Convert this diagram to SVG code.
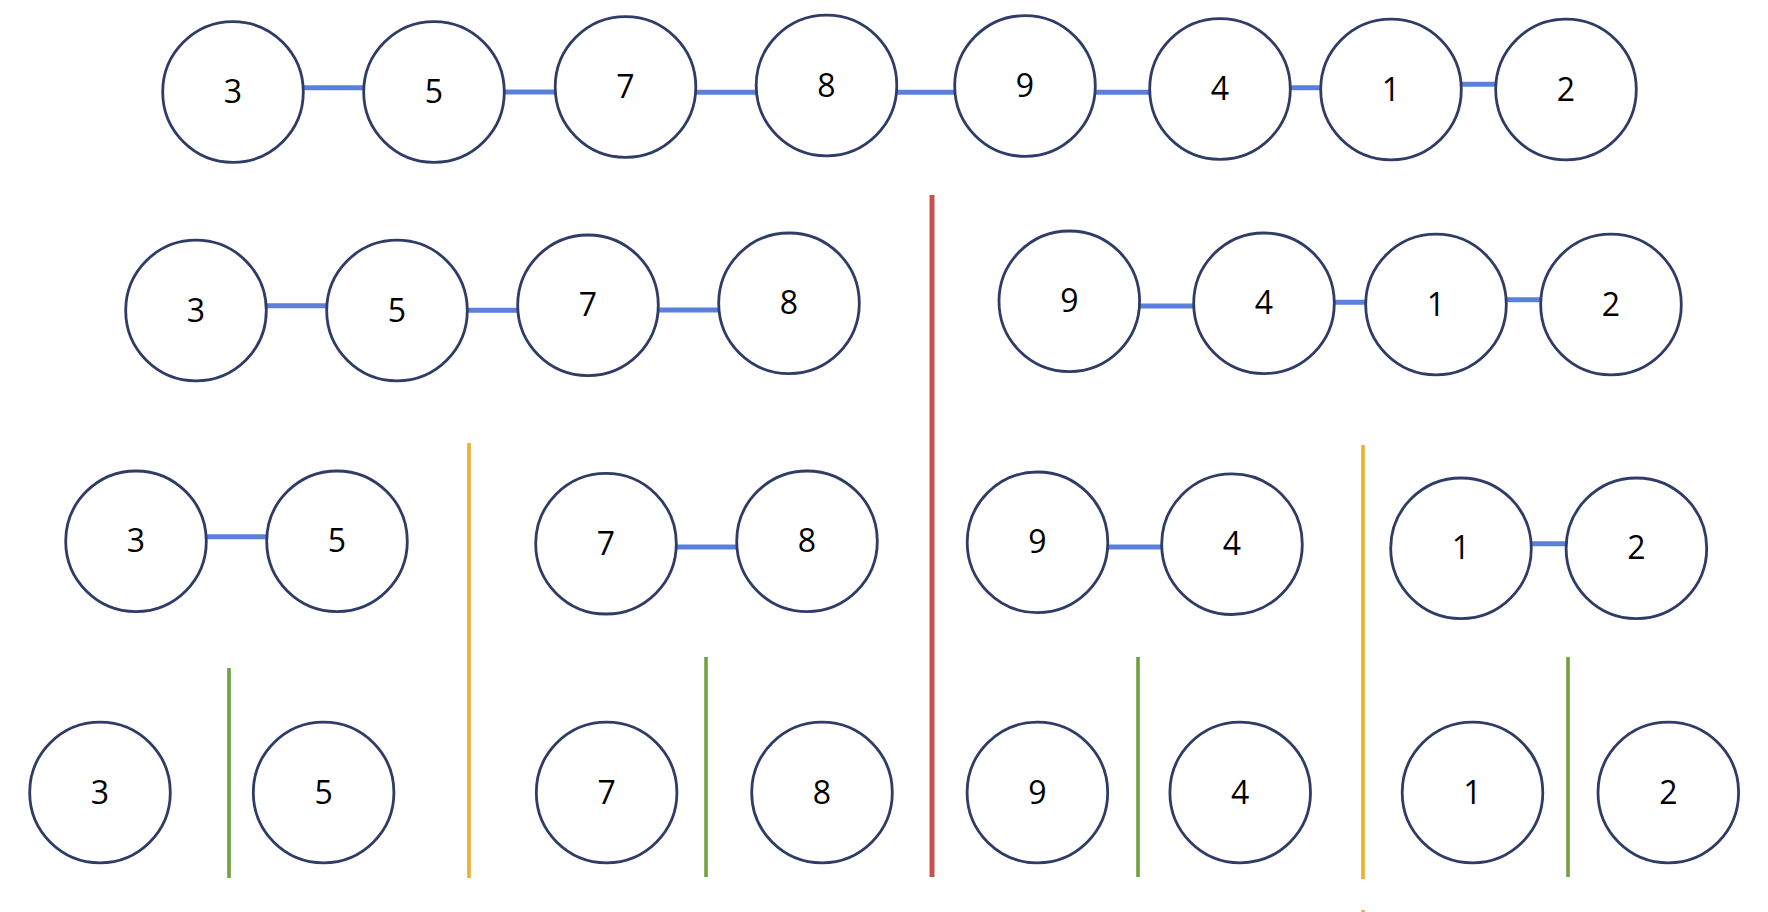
<svg xmlns="http://www.w3.org/2000/svg" width="1768" height="912" viewBox="0 0 1768 912">
<style>
.n circle{fill:#fff;stroke:#2F3C66;stroke-width:2.8}
.n text{font-family:"Open Sans","Liberation Sans",sans-serif;font-size:32px;fill:#000;text-anchor:middle}
.c line{stroke:#5B80DB;stroke-width:5}
.red{stroke:#C9504F;stroke-width:5}
.yel{stroke:#ECB02E;stroke-width:3.6}
.grn{stroke:#6FA23F;stroke-width:3.6}
</style>
<rect width="1768" height="912" fill="#fff"/>
<g id="dividers">
<line class="red" x1="932" y1="195" x2="932" y2="877"/>
<line class="yel" x1="469" y1="443" x2="469" y2="878"/>
<line class="yel" x1="1363" y1="445" x2="1363" y2="879"/>
<line class="yel" x1="1363" y1="910" x2="1363" y2="912"/>
<line class="grn" x1="229" y1="668" x2="229" y2="878"/>
<line class="grn" x1="706" y1="657" x2="706" y2="877"/>
<line class="grn" x1="1138" y1="657" x2="1138" y2="877"/>
<line class="grn" x1="1568" y1="657" x2="1568" y2="877"/>
</g>
<g id="connectors" class="c">
<line x1="300" y1="87.7" x2="367" y2="87.7"/>
<line x1="501" y1="92" x2="558" y2="92"/>
<line x1="692" y1="92.3" x2="760" y2="92.3"/>
<line x1="893" y1="92.3" x2="958" y2="92.3"/>
<line x1="1092" y1="92.3" x2="1153" y2="92.3"/>
<line x1="1287" y1="87.7" x2="1324" y2="87.7"/>
<line x1="1458" y1="84.3" x2="1499" y2="84.3"/>
<line x1="263" y1="305.7" x2="330" y2="305.7"/>
<line x1="464" y1="310.3" x2="521" y2="310.3"/>
<line x1="655" y1="310" x2="722" y2="310"/>
<line x1="1136" y1="306" x2="1197" y2="306"/>
<line x1="1331" y1="302.3" x2="1369" y2="302.3"/>
<line x1="1503" y1="299.7" x2="1544" y2="299.7"/>
<line x1="203" y1="536.7" x2="270" y2="536.7"/>
<line x1="673" y1="547" x2="740" y2="547"/>
<line x1="1104" y1="547" x2="1165" y2="547"/>
<line x1="1528" y1="543.7" x2="1569" y2="543.7"/>
</g>
<g id="r1-3" class="n"><circle cx="233" cy="92" r="70.3"/><text x="233" y="103">3</text></g>
<g id="r1-5" class="n"><circle cx="434" cy="92" r="70.3"/><text x="434" y="103">5</text></g>
<g id="r1-7" class="n"><circle cx="625.5" cy="87" r="70.3"/><text x="625.5" y="98">7</text></g>
<g id="r1-8" class="n"><circle cx="826.5" cy="85.5" r="70.3"/><text x="826.5" y="96.5">8</text></g>
<g id="r1-9" class="n"><circle cx="1025" cy="86" r="70.3"/><text x="1025" y="97">9</text></g>
<g id="r1-4" class="n"><circle cx="1220" cy="89" r="70.3"/><text x="1220" y="100">4</text></g>
<g id="r1-1" class="n"><circle cx="1391" cy="89.5" r="70.3"/><text x="1391" y="100.5">1</text></g>
<g id="r1-2" class="n"><circle cx="1566" cy="89.5" r="70.3"/><text x="1566" y="100.5">2</text></g>
<g id="r2-3" class="n"><circle cx="196" cy="310.5" r="70.3"/><text x="196" y="321.5">3</text></g>
<g id="r2-5" class="n"><circle cx="397" cy="310.5" r="70.3"/><text x="397" y="321.5">5</text></g>
<g id="r2-7" class="n"><circle cx="588" cy="305.3" r="70.3"/><text x="588" y="316.3">7</text></g>
<g id="r2-8" class="n"><circle cx="789" cy="303.3" r="70.3"/><text x="789" y="314.3">8</text></g>
<g id="r2-9" class="n"><circle cx="1069.3" cy="301.3" r="70.3"/><text x="1069.3" y="312.3">9</text></g>
<g id="r2-4" class="n"><circle cx="1264" cy="303.3" r="70.3"/><text x="1264" y="314.3">4</text></g>
<g id="r2-1" class="n"><circle cx="1436" cy="304.5" r="70.3"/><text x="1436" y="315.5">1</text></g>
<g id="r2-2" class="n"><circle cx="1611" cy="304.5" r="70.3"/><text x="1611" y="315.5">2</text></g>
<g id="r3-3" class="n"><circle cx="136" cy="541.3" r="70.3"/><text x="136" y="552.3">3</text></g>
<g id="r3-5" class="n"><circle cx="337" cy="541.3" r="70.3"/><text x="337" y="552.3">5</text></g>
<g id="r3-7" class="n"><circle cx="606" cy="543.7" r="70.3"/><text x="606" y="554.7">7</text></g>
<g id="r3-8" class="n"><circle cx="807" cy="541.3" r="70.3"/><text x="807" y="552.3">8</text></g>
<g id="r3-9" class="n"><circle cx="1037.5" cy="542.3" r="70.3"/><text x="1037.5" y="553.3">9</text></g>
<g id="r3-4" class="n"><circle cx="1232" cy="544.2" r="70.3"/><text x="1232" y="555.2">4</text></g>
<g id="r3-1" class="n"><circle cx="1461" cy="548.3" r="70.3"/><text x="1461" y="559.3">1</text></g>
<g id="r3-2" class="n"><circle cx="1636.4" cy="548.3" r="70.3"/><text x="1636.4" y="559.3">2</text></g>
<g id="r4-3" class="n"><circle cx="100" cy="792.5" r="70.3"/><text x="100" y="803.5">3</text></g>
<g id="r4-5" class="n"><circle cx="323.6" cy="792.5" r="70.3"/><text x="323.6" y="803.5">5</text></g>
<g id="r4-7" class="n"><circle cx="606.6" cy="792.5" r="70.3"/><text x="606.6" y="803.5">7</text></g>
<g id="r4-8" class="n"><circle cx="822" cy="792.5" r="70.3"/><text x="822" y="803.5">8</text></g>
<g id="r4-9" class="n"><circle cx="1037.4" cy="792.5" r="70.3"/><text x="1037.4" y="803.5">9</text></g>
<g id="r4-4" class="n"><circle cx="1240.2" cy="792.5" r="70.3"/><text x="1240.2" y="803.5">4</text></g>
<g id="r4-1" class="n"><circle cx="1472.5" cy="792.5" r="70.3"/><text x="1472.5" y="803.5">1</text></g>
<g id="r4-2" class="n"><circle cx="1668.3" cy="792.5" r="70.3"/><text x="1668.3" y="803.5">2</text></g>
</svg>
